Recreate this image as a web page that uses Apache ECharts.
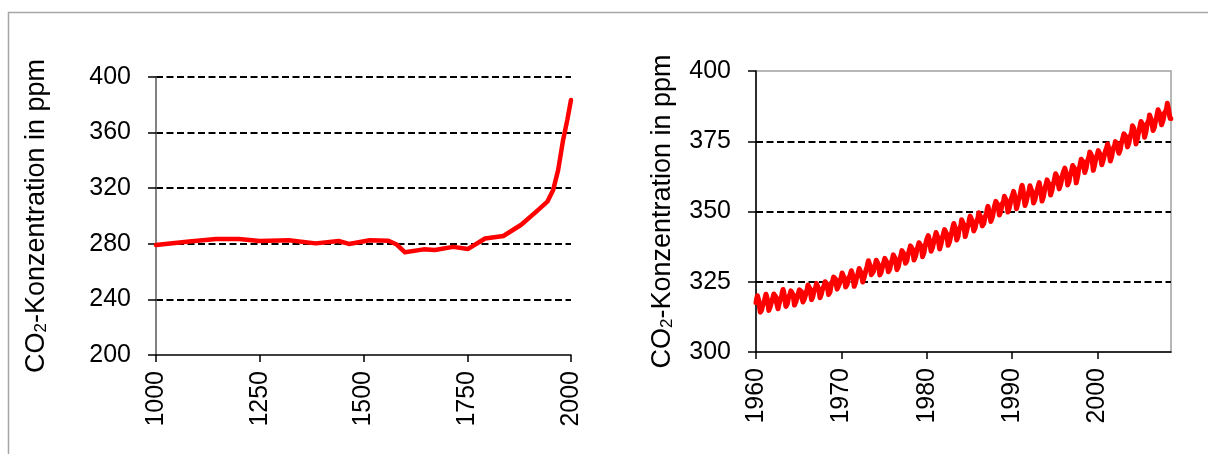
<!DOCTYPE html>
<html><head><meta charset="utf-8">
<script src="https://cdn.jsdelivr.net/npm/echarts@6/dist/echarts.min.js"></script>
<style>html,body{margin:0;padding:0;background:#fff}#c{width:1208px;height:454px}</style>
</head><body><div id="c"></div>
<script>
// Left chart: CO2 over the last millennium (ice cores + recent)
const longYears = [1000, 1080, 1145, 1200, 1250, 1320, 1385, 1440, 1465, 1515, 1560, 1580, 1600, 1645, 1672, 1716, 1752, 1793, 1837, 1880, 1917, 1943, 1957, 1969, 1981, 1991, 2000];
const longCO2   = [279.2, 281.6, 283.5, 283.5, 282.0, 282.6, 280.3, 282.0, 279.9, 282.6, 282.2, 279.5, 273.9, 276.0, 275.6, 277.8, 276.3, 283.8, 285.6, 293.7, 303.3, 310.3, 318.7, 333.0, 354.7, 369.0, 383.5];

// Right chart: monthly Mauna Loa CO2, March 1960 .. October 2008
const mlStartYear = 1960;
const mlStartMonthIndex = 0; // first value plotted at the 1960 tick
const maunaLoaCO2 = [
/*1960*/ 317.58, 319.02, 320.03, 319.59, 318.18, 315.91, 314.16, 313.83, 315.00, 316.19,
/*1961*/ 316.93, 317.70, 318.54, 319.48, 320.58, 319.77, 318.57, 316.79, 314.80, 315.38, 316.10, 317.01,
/*1962*/ 317.94, 318.56, 319.68, 320.63, 321.01, 320.55, 319.58, 317.40, 316.26, 315.42, 316.69, 317.69,
/*1963*/ 318.74, 319.08, 319.86, 321.39, 322.25, 321.47, 319.74, 317.77, 316.21, 315.99, 317.12, 318.31,
/*1964*/ 319.57, 320.07, 320.73, 321.77, 322.25, 321.89, 320.44, 318.70, 316.70, 316.79, 317.79, 318.71,
/*1965*/ 319.44, 320.44, 320.89, 322.13, 322.16, 321.87, 321.39, 318.81, 317.81, 317.30, 318.87, 319.42,
/*1966*/ 320.62, 321.59, 322.39, 323.87, 324.01, 323.75, 322.39, 320.37, 318.64, 318.10, 319.79, 321.08,
/*1967*/ 322.07, 322.50, 323.04, 324.42, 325.00, 324.09, 322.55, 320.92, 319.31, 319.31, 320.72, 321.96,
/*1968*/ 322.57, 323.15, 323.89, 325.02, 325.57, 325.36, 324.14, 322.03, 320.41, 320.25, 321.31, 322.84,
/*1969*/ 324.00, 324.42, 325.64, 326.66, 327.34, 326.76, 325.88, 323.67, 322.38, 321.78, 322.85, 324.12,
/*1970*/ 325.03, 325.99, 326.87, 328.13, 328.07, 327.66, 326.35, 324.69, 323.10, 323.16, 323.98, 325.13,
/*1971*/ 326.17, 326.68, 327.18, 327.78, 328.92, 328.57, 327.34, 325.46, 323.36, 323.57, 324.80, 326.01,
/*1972*/ 326.77, 327.63, 327.75, 329.72, 330.07, 329.09, 328.05, 326.32, 324.93, 325.06, 326.50, 327.55,
/*1973*/ 328.54, 329.56, 330.30, 331.50, 332.48, 332.07, 330.87, 329.31, 327.51, 327.18, 328.16, 328.64,
/*1974*/ 329.35, 330.71, 331.48, 332.65, 333.09, 332.25, 331.18, 329.40, 327.44, 327.37, 328.46, 329.58,
/*1975*/ 330.40, 331.41, 332.04, 333.31, 333.96, 333.59, 331.91, 330.06, 328.56, 328.34, 329.49, 330.76,
/*1976*/ 331.75, 332.56, 333.50, 334.58, 334.87, 334.34, 333.05, 330.94, 329.30, 328.94, 330.31, 331.68,
/*1977*/ 332.93, 333.42, 334.70, 336.07, 336.74, 336.27, 334.93, 332.75, 331.58, 331.16, 332.40, 333.85,
/*1978*/ 334.97, 335.39, 336.64, 337.76, 338.01, 337.89, 336.54, 334.68, 332.76, 332.54, 333.92, 334.95,
/*1979*/ 336.23, 336.76, 337.96, 338.89, 339.47, 339.29, 337.73, 336.09, 333.91, 333.86, 335.29, 336.73,
/*1980*/ 338.01, 338.36, 340.08, 340.77, 341.46, 341.17, 339.56, 337.60, 335.88, 336.01, 337.10, 338.21,
/*1981*/ 339.23, 340.47, 341.38, 342.51, 342.91, 342.25, 340.49, 338.43, 336.69, 336.85, 338.36, 339.61,
/*1982*/ 340.75, 341.61, 342.70, 343.56, 344.13, 343.35, 342.06, 339.82, 337.97, 337.86, 339.26, 340.49,
/*1983*/ 341.37, 342.52, 343.10, 344.94, 345.75, 345.32, 343.99, 342.39, 339.86, 339.99, 341.16, 342.99,
/*1984*/ 343.70, 344.51, 345.28, 347.08, 347.43, 346.79, 345.40, 343.28, 341.07, 341.35, 342.98, 344.22,
/*1985*/ 344.97, 345.99, 347.42, 348.35, 348.93, 348.25, 346.56, 344.67, 343.09, 342.80, 344.24, 345.56,
/*1986*/ 346.29, 346.96, 347.86, 349.55, 350.21, 349.54, 347.94, 345.91, 344.86, 344.17, 345.66, 346.90,
/*1987*/ 348.02, 348.47, 349.42, 350.99, 351.84, 351.25, 349.52, 348.10, 346.44, 346.36, 347.81, 348.96,
/*1988*/ 350.43, 351.72, 352.22, 353.59, 354.22, 353.79, 352.39, 350.44, 348.72, 348.88, 350.07, 351.34,
/*1989*/ 352.76, 353.07, 353.68, 355.42, 355.67, 355.13, 353.90, 351.67, 349.80, 349.99, 351.30, 352.53,
/*1990*/ 353.66, 354.70, 355.39, 356.20, 357.16, 356.22, 354.82, 352.91, 350.96, 351.18, 352.83, 354.21,
/*1991*/ 354.72, 355.75, 357.16, 358.60, 359.34, 358.24, 356.17, 354.02, 352.15, 352.21, 353.75, 354.99,
/*1992*/ 355.98, 356.72, 357.81, 359.15, 359.66, 359.25, 357.02, 355.00, 353.01, 353.31, 354.16, 355.40,
/*1993*/ 356.70, 357.17, 358.38, 359.46, 360.28, 359.60, 357.57, 355.52, 353.70, 353.98, 355.33, 356.80,
/*1994*/ 358.36, 358.91, 359.97, 361.26, 361.68, 360.95, 359.55, 357.49, 355.84, 356.00, 357.58, 359.04,
/*1995*/ 359.96, 361.00, 361.64, 363.45, 363.79, 363.26, 361.90, 359.46, 358.06, 357.75, 359.56, 360.70,
/*1996*/ 362.05, 363.25, 364.03, 364.72, 365.41, 364.97, 363.65, 361.49, 359.46, 359.60, 360.76, 362.33,
/*1997*/ 363.18, 364.00, 364.57, 366.35, 366.79, 365.62, 364.47, 362.51, 360.19, 360.77, 362.43, 364.28,
/*1998*/ 365.32, 366.15, 367.31, 368.61, 369.29, 368.87, 367.64, 365.77, 363.90, 364.23, 365.46, 366.97,
/*1999*/ 368.15, 368.87, 369.59, 371.14, 371.00, 370.35, 369.27, 366.94, 364.63, 365.12, 366.67, 368.01,
/*2000*/ 369.14, 369.46, 370.52, 371.66, 371.82, 371.70, 370.12, 368.12, 366.62, 366.73, 368.29, 369.53,
/*2001*/ 370.28, 371.50, 372.12, 372.87, 374.02, 373.30, 371.62, 369.55, 367.96, 368.09, 369.68, 371.24,
/*2002*/ 372.43, 373.09, 373.52, 374.86, 375.55, 375.40, 374.02, 371.49, 370.71, 370.25, 372.08, 373.78,
/*2003*/ 374.68, 375.63, 376.11, 377.65, 378.35, 378.13, 376.62, 374.50, 372.99, 373.01, 374.35, 375.70,
/*2004*/ 376.79, 377.36, 378.39, 380.50, 380.62, 379.55, 377.76, 375.83, 374.05, 374.22, 375.84, 377.44,
/*2005*/ 378.34, 379.61, 380.08, 382.05, 382.24, 382.08, 380.67, 378.67, 376.42, 376.80, 378.31, 379.96,
/*2006*/ 381.37, 382.02, 382.56, 384.37, 384.92, 384.03, 382.28, 380.48, 378.81, 379.06, 380.14, 381.66,
/*2007*/ 382.58, 383.71, 384.34, 386.23, 386.41, 385.87, 384.45, 381.84, 380.86, 380.86, 382.36, 383.61,
/*2008*/ 385.07, 385.72, 385.85, 386.71, 388.50, 387.81, 386.09, 384.25, 383.09, 383.10
];

const leftYTicks  = [200, 240, 280, 320, 360, 400];
const leftXTicks  = [1000, 1250, 1500, 1750, 2000];
const rightYTicks = [300, 325, 350, 375, 400];
const rightXTicks = [1960, 1970, 1980, 1990, 2000];
const yTitle = '{m|CO}{s|2}{m|-Konzentration in ppm}';

const FONT = 'Liberation Sans, Arial, sans-serif';
const longData = longYears.map((y, i) => [y, longCO2[i]]);
const mlData = maunaLoaCO2.map((v, i) => [mlStartYear + (mlStartMonthIndex + i) / 12, v]);

const nameRich = {
  m: { fontSize: 27, fontFamily: FONT, color: '#000', lineHeight: 31, verticalAlign: 'bottom' },
  s: { fontSize: 17, fontFamily: FONT, color: '#000', lineHeight: 17, verticalAlign: 'bottom' }
};
const labelStyle = { fontSize: 25, fontFamily: FONT, color: '#000' };
const gridDash = { color: '#000', width: 2.2, type: [7, 3.5] };
const plain = v => String(Math.round(v));

const chart = echarts.init(document.getElementById('c'), null, { renderer: 'canvas' });
chart.setOption({
  animation: false,
  backgroundColor: '#fff',
  graphic: [{
    type: 'rect', silent: true, z: -10,
    shape: { x: 8.5, y: 12.5, width: 1400, height: 700 },
    style: { fill: 'none', stroke: '#a6a6a6', lineWidth: 1.5 }
  }],
  grid: [
    { left: 156, top: 77, width: 415, height: 278 },
    { left: 756, top: 71, width: 415, height: 281, show: true, borderColor: '#a0a0a0', borderWidth: 1.5, backgroundColor: 'transparent' }
  ],
  xAxis: [
    {
      type: 'value', gridIndex: 0, min: leftXTicks[0], max: leftXTicks[leftXTicks.length - 1], interval: 250,
      axisLine: { show: true, onZero: false, lineStyle: { color: '#000', width: 1.5 } },
      axisTick: { show: true, length: 7, lineStyle: { color: '#000', width: 1.5 } },
      axisLabel: Object.assign({ rotate: 90, margin: 16, formatter: plain }, labelStyle),
      splitLine: { show: false }
    },
    {
      type: 'value', gridIndex: 1, min: 1960, max: 2008.6, interval: 10,
      axisLine: { show: true, onZero: false, lineStyle: { color: '#000', width: 1.5 } },
      axisTick: { show: true, length: 7, lineStyle: { color: '#000', width: 1.5 }, customValues: rightXTicks },
      axisLabel: Object.assign({ rotate: 90, margin: 16, customValues: rightXTicks,
        formatter: v => (rightXTicks.indexOf(Math.round(v)) >= 0 && Math.abs(v - Math.round(v)) < 1e-6) ? String(Math.round(v)) : '' }, labelStyle),
      splitLine: { show: false }
    }
  ],
  yAxis: [
    {
      type: 'value', gridIndex: 0, min: leftYTicks[0], max: leftYTicks[leftYTicks.length - 1], interval: 40,
      name: yTitle, nameLocation: 'middle', nameRotate: 90, nameGap: 106,
      nameTextStyle: { rich: nameRich },
      axisLine: { show: true, onZero: false, lineStyle: { color: '#595959', width: 1.5 } },
      axisTick: { show: true, length: 8, lineStyle: { color: '#000', width: 1.5 } },
      axisLabel: Object.assign({ margin: 25, formatter: plain }, labelStyle),
      splitLine: { show: true, showMinLine: false, lineStyle: gridDash }
    },
    {
      type: 'value', gridIndex: 1, min: rightYTicks[0], max: rightYTicks[rightYTicks.length - 1], interval: 25,
      name: yTitle, nameLocation: 'middle', nameRotate: 90, nameGap: 80,
      nameTextStyle: { rich: nameRich },
      axisLine: { show: true, onZero: false, lineStyle: { color: '#000', width: 1.5 } },
      axisTick: { show: true, length: 8, lineStyle: { color: '#000', width: 1.5 } },
      axisLabel: Object.assign({ margin: 25, formatter: plain }, labelStyle),
      splitLine: { show: true, showMinLine: false, showMaxLine: false, lineStyle: gridDash }
    }
  ],
  series: [
    {
      type: 'line', xAxisIndex: 0, yAxisIndex: 0, data: longData,
      symbol: 'none', showSymbol: false, silent: true,
      lineStyle: { color: '#ff0000', width: 4.5, cap: 'round', join: 'round' }
    },
    {
      type: 'line', xAxisIndex: 1, yAxisIndex: 1, data: mlData,
      symbol: 'none', showSymbol: false, silent: true,
      lineStyle: { color: '#ff0000', width: 5, cap: 'round', join: 'round' }
    }
  ]
});
</script>
</body></html>
